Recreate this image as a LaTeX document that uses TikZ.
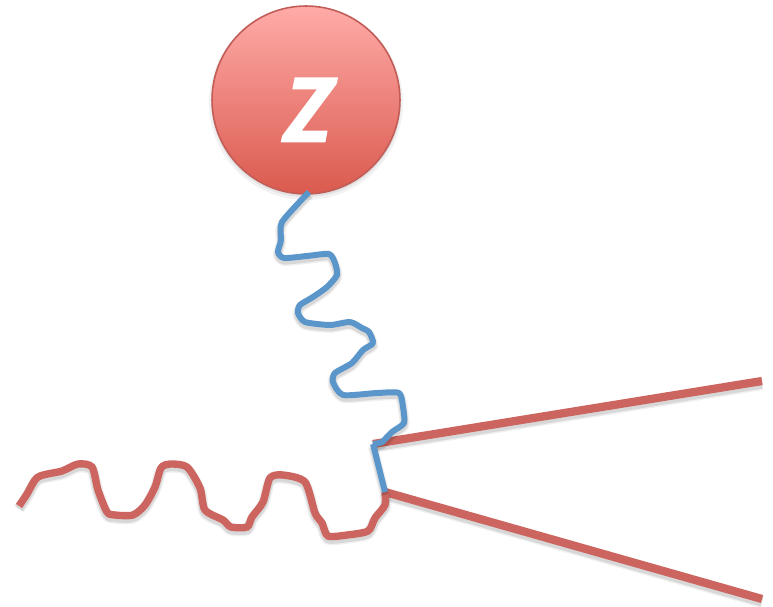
\documentclass[tikz,border=0pt]{standalone}
\usepackage{fontspec}
\newfontfamily\zfont[BoldItalicFeatures={FakeBold=2.5,FakeSlant=0.06}]{Carlito}
\definecolor{redline}{HTML}{CC655F}
\definecolor{blueline}{HTML}{5B96CB}
\definecolor{zedge}{HTML}{C25C57}
\definecolor{ztop}{HTML}{FFABA8}
\definecolor{zbottom}{HTML}{DA5A4E}
\tikzset{
    softshade/.style={
        preaction={draw=black, draw opacity=0.06, line width=#1+2.4pt, transform canvas={yshift=-1.6pt}},
        preaction={draw=black, draw opacity=0.10, line width=#1+0.8pt, transform canvas={yshift=-1.6pt}}
    },
    redwire/.style={draw=redline, line width=4.2pt, softshade=4.2pt},
    redlong/.style={draw=redline, line width=4.7pt, softshade=4.7pt},
    bluewire/.style={draw=blueline, line width=3.4pt, softshade=3.4pt, line join=round}
}
\begin{document}
\begin{tikzpicture}[x=0.02cm, y=-0.02cm]
    \useasboundingbox (0,0) rectangle (773,607);

    % ball
    \fill[black, opacity=0.05] (306,103) circle (97);
    \fill[black, opacity=0.07] (306,102) circle (95);
    \node[draw=zedge, line width=0.9pt, circle, inner sep=0pt, minimum size=3.76cm,
        top color=ztop, bottom color=zbottom, text=white,
        font=\zfont\bfseries\itshape\fontsize{55}{55}\selectfont] (ball) at (306,100) {\rule{0pt}{1.65cm}Z};

    % end points
    \coordinate (ballfoot) at (309,192);
    \coordinate (upvertex) at (373,444);
    \coordinate (lowvertex) at (385,492);
    \coordinate (upend) at (762,381);
    \coordinate (lowend) at (762,599);
    \coordinate (wavestart) at (19,506);

    % straight lines
    \draw[redlong] (upvertex) -- (upend);
    \draw[redlong] (lowvertex) -- (lowend);

    % red wave
    \draw[redwire] plot[smooth, tension=0.45] coordinates {(wavestart) (27,494) (38,477) (62,471)
        (78,464) (92,467) (98,490) (107,512) (115,515) (133,515) (145,505) (155,487)
        (161,468) (170,464) (187,467) (200,488) (205,510) (223,520) (231,527) (247,527)
        (252,517) (263,502) (270,478) (283,475) (305,482) (315,513) (322,523) (328,536)
        (347,535) (368,531) (375,518) (385,505) (lowvertex)};

    % blue wave
    \draw[bluewire] plot[smooth, tension=0.4] coordinates {(ballfoot) (282,222) (281,240) (278,252)
        (284,258) (307,256) (329,254) (335,263) (337,275) (327,287) (313,297) (300,305)
        (298,313) (305,322) (330,325) (350,322) (362,328) (369,332) (373,343) (363,350)
        (352,363) (335,373) (333,382) (343,395) (377,393) (399,393) (403,407) (404,423)
        (392,432) (382,442) (upvertex)};
    \draw[bluewire] (upvertex) -- (lowvertex);
\end{tikzpicture}
\end{document}
